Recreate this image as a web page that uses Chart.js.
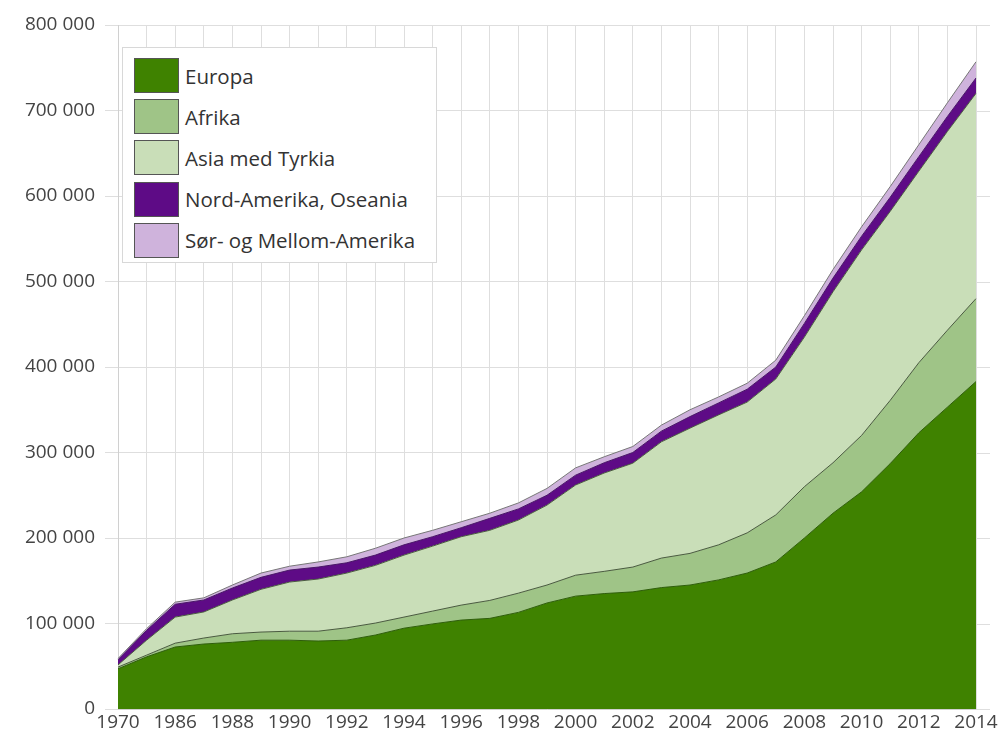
<!DOCTYPE html>
<html>
<head>
<meta charset="utf-8">
<script src="https://cdn.jsdelivr.net/npm/chart.js@4/dist/chart.umd.min.js"></script>
<style>
  html, body { margin: 0; padding: 0; background: #fff; }
  #wrap { position: relative; width: 1003px; height: 734px; }
  #legend { position: absolute; left: 122px; top: 47px; width: 315px; height: 216px;
            background: #fff; border: 1px solid #d8d8d8; box-sizing: border-box;
            font-family: "Open Sans", sans-serif; font-size: 20.5px; color: #333; }
  .item { position: absolute; left: 11px; height: 35px; display: flex; align-items: center; }
  .sw { width: 45px; height: 35px; box-sizing: border-box; border: 1px solid #555; margin-right: 6px; }
</style>
</head>
<body>
<div id="wrap">
  <canvas id="c" width="1003" height="734"></canvas>
  <div id="legend"></div>
</div>
<script>
const years = ['1970','1980','1986','1987','1988','1989','1990','1991','1992','1993','1994','1995','1996','1997','1998','1999','2000','2001','2002','2003','2004','2005','2006','2007','2008','2009','2010','2011','2012','2013','2014'];

const europa = [47000,61000,72500,76000,78000,80500,80500,79500,80500,86500,94500,99500,104000,106000,113000,124000,132000,135000,137000,142000,145000,151000,159000,172000,200000,229000,254000,287000,323000,353000,383000];
const afrika = [2000,2000,4500,7000,10000,9500,10500,11500,14500,14000,13000,15000,17500,21000,22500,21000,24500,26000,29000,34500,37000,41000,47000,55000,60000,59000,66000,74000,82000,90000,97000];
const asia = [2500,17500,30500,30500,39500,50000,57500,61000,64000,67500,72500,76000,80000,82000,85500,93500,105500,115000,121500,136000,146500,152000,153000,159000,175000,200000,217000,221000,224000,232500,240000];
const nordAmerika = [6000,11500,15000,14000,14000,14000,14000,14000,12000,12000,12000,11000,10500,14000,13000,11500,11500,12000,12500,12500,13500,14000,15000,14000,16000,16000,16000,16500,17000,17500,18000];
const sorAmerika = [1500,2000,2500,2500,3500,5000,4500,6000,7000,8000,8000,7500,7000,6000,7000,8000,8500,7000,7000,7000,8000,7000,7000,8000,9000,10000,11000,12500,14000,16000,19000];

const seriesNames = ['Europa','Afrika','Asia med Tyrkia','Nord-Amerika, Oseania','Sør- og Mellom-Amerika'];
const seriesData = [europa, afrika, asia, nordAmerika, sorAmerika];
const fillColors = ['#3f8200','#9fc487','#c9deb8','#5e0b86','#cfb3dc'];
const lineColors = ['#2f5e0c','#4a5a40','#4a5a40','#4a1868','#777777'];

const fmt = v => String(v).replace(/\B(?=(\d{3})+(?!\d))/g, ' ');

const extendGrid = {
  id: 'extendGrid',
  beforeDatasetsDraw(chart) {
    const ctx = chart.ctx, y = chart.scales.y, a = chart.chartArea;
    ctx.save();
    ctx.strokeStyle = '#dedede';
    ctx.lineWidth = 1;
    y.ticks.forEach(t => {
      const py = Math.round(y.getPixelForValue(t.value)) + 0.5;
      ctx.beginPath();
      ctx.moveTo(a.right, py);
      ctx.lineTo(a.right + 14, py);
      ctx.stroke();
    });
    ctx.restore();
  }
};

new Chart(document.getElementById('c'), {
  type: 'line',
  data: {
    labels: years,
    datasets: seriesData.map((d, i) => ({
      label: seriesNames[i],
      data: d,
      backgroundColor: fillColors[i],
      borderColor: lineColors[i],
      borderWidth: 1,
      pointRadius: 0,
      tension: 0,
      fill: i === 0 ? 'origin' : '-1'
    }))
  },
  options: {
    responsive: false,
    animation: false,
    layout: { padding: { top: 25, right: 27, left: 0, bottom: 0 } },
    plugins: { legend: { display: false }, tooltip: { enabled: false } },
    scales: {
      x: {
        offset: false,
        grid: { color: '#dedede', drawTicks: false },
        border: { color: '#d0d0d0' },
        ticks: {
          autoSkip: false, maxRotation: 0, padding: 2,
          color: '#444', font: { family: 'Open Sans', size: 19 },
          callback: function(v, i) { return i % 2 === 0 ? this.getLabelForValue(v) : ''; }
        },
        afterFit(s) { s.height = 25; }
      },
      y: {
        stacked: true,
        min: 0, max: 800000,
        grid: { color: '#dedede', tickLength: 13 },
        border: { color: '#d0d0d0' },
        ticks: {
          stepSize: 100000, padding: 10,
          color: '#444', font: { family: 'Open Sans', size: 19 },
          callback: v => fmt(v)
        },
        afterFit(s) { s.width = 118; }
      }
    }
  },
  plugins: [extendGrid]
});

const leg = document.getElementById('legend');
seriesNames.forEach((n, i) => {
  const it = document.createElement('div');
  it.className = 'item';
  it.style.top = (10 + i * 41.2) + 'px';
  const sw = document.createElement('div');
  sw.className = 'sw';
  sw.style.background = fillColors[i];
  const tx = document.createElement('span');
  tx.textContent = n;
  it.appendChild(sw); it.appendChild(tx);
  leg.appendChild(it);
});
</script>
</body>
</html>
